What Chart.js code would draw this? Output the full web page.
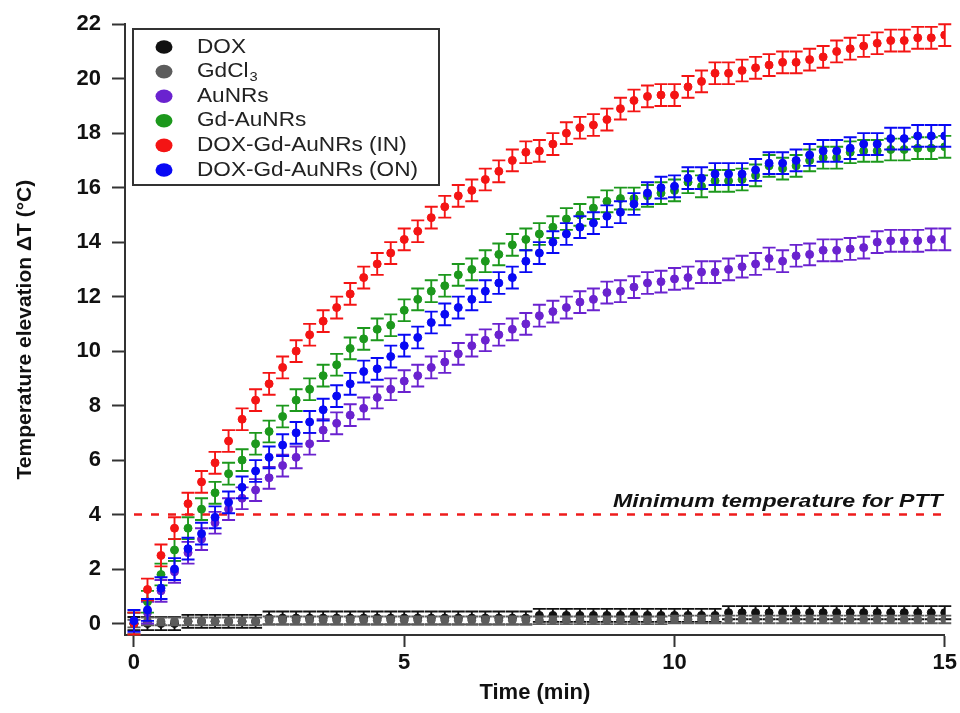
<!DOCTYPE html>
<html>
<head>
<meta charset="utf-8">
<script src="https://cdn.jsdelivr.net/npm/chart.js@4.4.1/dist/chart.umd.min.js"></script>
<style>
  html, body { margin: 0; padding: 0; background: #fff; }
  canvas { display: block; }
</style>
</head>
<body>
<canvas id="chart" width="960" height="713"></canvas>
<script>
// time points (min)
const times = [0, 0.25, 0.5, 0.75, 1, 1.25, 1.5, 1.75, 2, 2.25,
  2.5, 2.75, 3, 3.25, 3.5, 3.75, 4, 4.25, 4.5, 4.75,
  5, 5.25, 5.5, 5.75, 6, 6.25, 6.5, 6.75, 7, 7.25,
  7.5, 7.75, 8, 8.25, 8.5, 8.75, 9, 9.25, 9.5, 9.75,
  10, 10.25, 10.5, 10.75, 11, 11.25, 11.5, 11.75, 12, 12.25,
  12.5, 12.75, 13, 13.25, 13.5, 13.75, 14, 14.25, 14.5, 14.75,
  15];

const doxValues = [0.0, 0.0, 0.0, 0.0, 0.08, 0.08, 0.08, 0.08, 0.08, 0.08,
  0.2, 0.2, 0.2, 0.2, 0.2, 0.2, 0.2, 0.2, 0.2, 0.2,
  0.2, 0.2, 0.2, 0.2, 0.2, 0.2, 0.2, 0.2, 0.2, 0.2,
  0.3, 0.3, 0.3, 0.3, 0.3, 0.3, 0.3, 0.3, 0.3, 0.3,
  0.3, 0.3, 0.3, 0.3, 0.4, 0.4, 0.4, 0.4, 0.4, 0.4,
  0.4, 0.4, 0.4, 0.4, 0.4, 0.4, 0.4, 0.4, 0.4, 0.4,
  0.4];
const gdcl3Values = [0.0, 0.08, 0.08, 0.08, 0.08, 0.08, 0.08, 0.08, 0.08, 0.08,
  0.12, 0.12, 0.12, 0.12, 0.12, 0.12, 0.12, 0.12, 0.12, 0.12,
  0.12, 0.12, 0.12, 0.12, 0.12, 0.12, 0.12, 0.12, 0.12, 0.12,
  0.12, 0.12, 0.12, 0.12, 0.12, 0.12, 0.12, 0.12, 0.12, 0.12,
  0.15, 0.15, 0.15, 0.15, 0.15, 0.15, 0.15, 0.15, 0.15, 0.15,
  0.15, 0.15, 0.15, 0.15, 0.15, 0.15, 0.15, 0.15, 0.15, 0.15,
  0.15];
const aunrValues = [0.0, 0.4, 1.2, 1.9, 2.6, 3.1, 3.7, 4.2, 4.6, 4.9,
  5.35, 5.8, 6.1, 6.6, 7.1, 7.35, 7.65, 7.9, 8.3, 8.6,
  8.9, 9.1, 9.4, 9.6, 9.9, 10.2, 10.4, 10.6, 10.8, 11.0,
  11.3, 11.45, 11.6, 11.8, 11.9, 12.15, 12.2, 12.35, 12.5, 12.55,
  12.65, 12.7, 12.9, 12.9, 13.0, 13.1, 13.2, 13.4, 13.3, 13.5,
  13.55, 13.7, 13.7, 13.75, 13.8, 14.0, 14.05, 14.05, 14.05, 14.1,
  14.1];
const gdAunrValues = [0.0, 0.8, 1.8, 2.7, 3.5, 4.2, 4.8, 5.5, 6.0, 6.6,
  7.05, 7.6, 8.2, 8.6, 9.1, 9.5, 10.1, 10.45, 10.8, 10.95,
  11.5, 11.9, 12.2, 12.4, 12.8, 13.0, 13.3, 13.55, 13.9, 14.1,
  14.3, 14.55, 14.85, 15.0, 15.25, 15.5, 15.6, 15.6, 15.7, 15.8,
  15.9, 16.2, 16.05, 16.25, 16.25, 16.3, 16.45, 16.8, 16.7, 16.8,
  17.0, 17.1, 17.1, 17.3, 17.35, 17.35, 17.4, 17.4, 17.45, 17.45,
  17.5];
const doxInValues = [0.0, 1.25, 2.5, 3.5, 4.4, 5.2, 5.9, 6.7, 7.5, 8.2,
  8.8, 9.4, 10.0, 10.6, 11.1, 11.6, 12.1, 12.7, 13.2, 13.6,
  14.1, 14.4, 14.9, 15.3, 15.7, 15.9, 16.3, 16.6, 17.0, 17.3,
  17.35, 17.6, 18.0, 18.2, 18.3, 18.5, 18.9, 19.2, 19.35, 19.4,
  19.4, 19.7, 19.9, 20.2, 20.2, 20.3, 20.4, 20.5, 20.6, 20.6,
  20.7, 20.8, 21.0, 21.1, 21.2, 21.3, 21.4, 21.4, 21.5, 21.5,
  21.6];
const doxOnValues = [0.1, 0.5, 1.3, 2.0, 2.75, 3.3, 3.9, 4.45, 5.0, 5.6,
  6.1, 6.55, 7.0, 7.4, 7.85, 8.35, 8.8, 9.25, 9.35, 9.8,
  10.2, 10.5, 11.05, 11.35, 11.6, 11.9, 12.2, 12.5, 12.7, 13.3,
  13.6, 14.0, 14.3, 14.55, 14.7, 14.95, 15.1, 15.4, 15.8, 16.0,
  16.05, 16.35, 16.35, 16.5, 16.5, 16.5, 16.65, 16.9, 16.9, 17.0,
  17.2, 17.35, 17.35, 17.45, 17.6, 17.6, 17.8, 17.8, 17.9, 17.9,
  17.9];

// error bar half-heights (°C)
const doxErr = 0.24;
const gdcl3Err = 0.14;
const sampleErr = 0.4;

const pttLevel = 4;
const pttRange = [0, 15];
const xTicks = [0, 5, 10, 15];
const yTicks = [0, 2, 4, 6, 8, 10, 12, 14, 16, 18, 20, 22];

const toPoints = vals => vals.map((v, i) => ({ x: times[i], y: v }));

function series(label, vals, color, err, order) {
  return {
    label: label,
    data: toPoints(vals),
    showLine: false,
    pointRadius: 4,
    pointHoverRadius: 4,
    pointBackgroundColor: color,
    pointBorderColor: color,
    borderColor: color,
    backgroundColor: color,
    errorBar: err,
    order: order
  };
}

const datasets = [
  series("DOX", doxValues, "#111111", doxErr, 6),
  series("GdCl3", gdcl3Values, "#5c5c5c", gdcl3Err, 5),
  series("AuNRs", aunrValues, "#6a22cf", sampleErr, 4),
  series("Gd-AuNRs", gdAunrValues, "#1c981c", sampleErr, 3),
  series("DOX-Gd-AuNRs (IN)", doxInValues, "#f41414", sampleErr, 2),
  series("DOX-Gd-AuNRs (ON)", doxOnValues, "#0808f4", sampleErr, 1),
  {
    label: "ptt",
    data: pttRange.map(t => ({ x: t, y: pttLevel })),
    showLine: true,
    borderColor: "#ee1c1c",
    borderWidth: 2.5,
    borderDash: [8, 9],
    pointRadius: 0,
    order: 10,
    noLegend: true
  }
];

// error bars, drawn under each series' own dots
const errorBarPlugin = {
  id: "errorBars",
  beforeDatasetDraw(chart, args) {
    const ds = chart.data.datasets[args.index];
    if (!ds.errorBar) return;
    const ctx = chart.ctx;
    const y = chart.scales.y;
    ctx.save();
    ctx.strokeStyle = ds.borderColor;
    ctx.lineWidth = 1.9;
    args.meta.data.forEach((pt, i) => {
      const v = ds.data[i].y;
      const top = y.getPixelForValue(v + ds.errorBar);
      const bot = y.getPixelForValue(v - ds.errorBar);
      ctx.beginPath();
      ctx.moveTo(pt.x, top); ctx.lineTo(pt.x, bot);
      ctx.moveTo(pt.x - 6.5, top); ctx.lineTo(pt.x + 6.5, top);
      ctx.moveTo(pt.x - 6.5, bot); ctx.lineTo(pt.x + 6.5, bot);
      ctx.stroke();
    });
    ctx.restore();
  }
};

function stretchText(ctx, text, x, y, sx) {
  ctx.save();
  ctx.translate(x, y);
  ctx.scale(sx, 1);
  ctx.fillText(text, 0, 0);
  const w = ctx.measureText(text).width * sx;
  ctx.restore();
  return w;
}

const pttLabelPlugin = {
  id: "pttLabel",
  afterDatasetsDraw(chart) {
    const ctx = chart.ctx;
    const x = chart.scales.x.getPixelForValue(pttRange[1]);
    const y = chart.scales.y.getPixelForValue(pttLevel);
    ctx.save();
    ctx.font = "italic bold 19px 'Liberation Sans', Arial, sans-serif";
    ctx.fillStyle = "#111";
    ctx.textAlign = "right";
    ctx.textBaseline = "alphabetic";
    stretchText(ctx, "Minimum temperature for PTT", x - 2, y - 8, 1.22);
    ctx.restore();
  }
};

const boxLegendPlugin = {
  id: "boxLegend",
  afterDraw(chart) {
    const ctx = chart.ctx;
    const left = 133, top = 29, right = 439, bottom = 185;
    ctx.save();
    ctx.fillStyle = "#fff";
    ctx.fillRect(left, top, right - left, bottom - top);
    ctx.strokeStyle = "#333";
    ctx.lineWidth = 2;
    ctx.strokeRect(left, top, right - left, bottom - top);
    const items = chart.data.datasets.filter(d => !d.noLegend);
    items.forEach((ds, i) => {
      const cy = 47 + i * 24.6;
      ctx.fillStyle = ds.borderColor;
      ctx.beginPath();
      ctx.ellipse(164, cy, 8.5, 6.8, 0, 0, Math.PI * 2);
      ctx.fill();
      ctx.fillStyle = "#222";
      ctx.textBaseline = "middle";
      ctx.textAlign = "left";
      ctx.font = "20px 'Liberation Sans', Arial, sans-serif";
      if (ds.label === "GdCl3") {
        const w = stretchText(ctx, "GdCl", 197, cy, 1.13);
        ctx.font = "13px 'Liberation Sans', Arial, sans-serif";
        stretchText(ctx, "3", 197 + w + 1, cy + 6, 1.13);
      } else {
        stretchText(ctx, ds.label, 197, cy, 1.13);
      }
    });
    ctx.restore();
  }
};

const axisColor = "#333";
const tickFont = { family: "'Liberation Sans', Arial, sans-serif", size: 22, weight: "bold" };

new Chart(document.getElementById("chart"), {
  type: "scatter",
  data: { datasets: datasets },
  options: {
    responsive: false,
    animation: false,
    events: [],
    layout: { padding: { left: 0, top: 24, right: 14, bottom: 0 } },
    plugins: {
      legend: { display: false },
      tooltip: { enabled: false }
    },
    scales: {
      x: {
        type: "linear",
        min: -0.166,
        max: 15,
        afterFit: s => { s.height = 78; },
        afterBuildTicks: s => { s.ticks = xTicks.map(v => ({ value: v })); },
        grid: { drawOnChartArea: false, drawTicks: true, tickLength: 12, tickColor: axisColor, tickWidth: 2 },
        border: { display: true, color: axisColor, width: 2 },
        ticks: { color: "#111", font: tickFont, padding: 3, maxRotation: 0 },
        title: {
          display: true,
          text: "Time (min)",
          color: "#111",
          font: { family: "'Liberation Sans', Arial, sans-serif", size: 22, weight: "bold" },
          padding: { top: 0, bottom: 7 }
        }
      },
      y: {
        type: "linear",
        min: -0.42,
        max: 22,
        afterFit: s => { s.width = 125; },
        afterBuildTicks: s => { s.ticks = yTicks.map(v => ({ value: v })); },
        grid: { drawOnChartArea: false, drawTicks: true, tickLength: 13, tickColor: axisColor, tickWidth: 2 },
        border: { display: true, color: axisColor, width: 2 },
        ticks: { color: "#111", font: tickFont, padding: 11 },
        title: {
          display: true,
          text: "Temperature elevation \u0394T (\u00b0C)",
          color: "#111",
          font: { family: "'Liberation Sans', Arial, sans-serif", size: 21, weight: "bold" },
          padding: { top: 13, bottom: 0 }
        }
      }
    }
  },
  plugins: [errorBarPlugin, pttLabelPlugin, boxLegendPlugin]
});
</script>
</body>
</html>
